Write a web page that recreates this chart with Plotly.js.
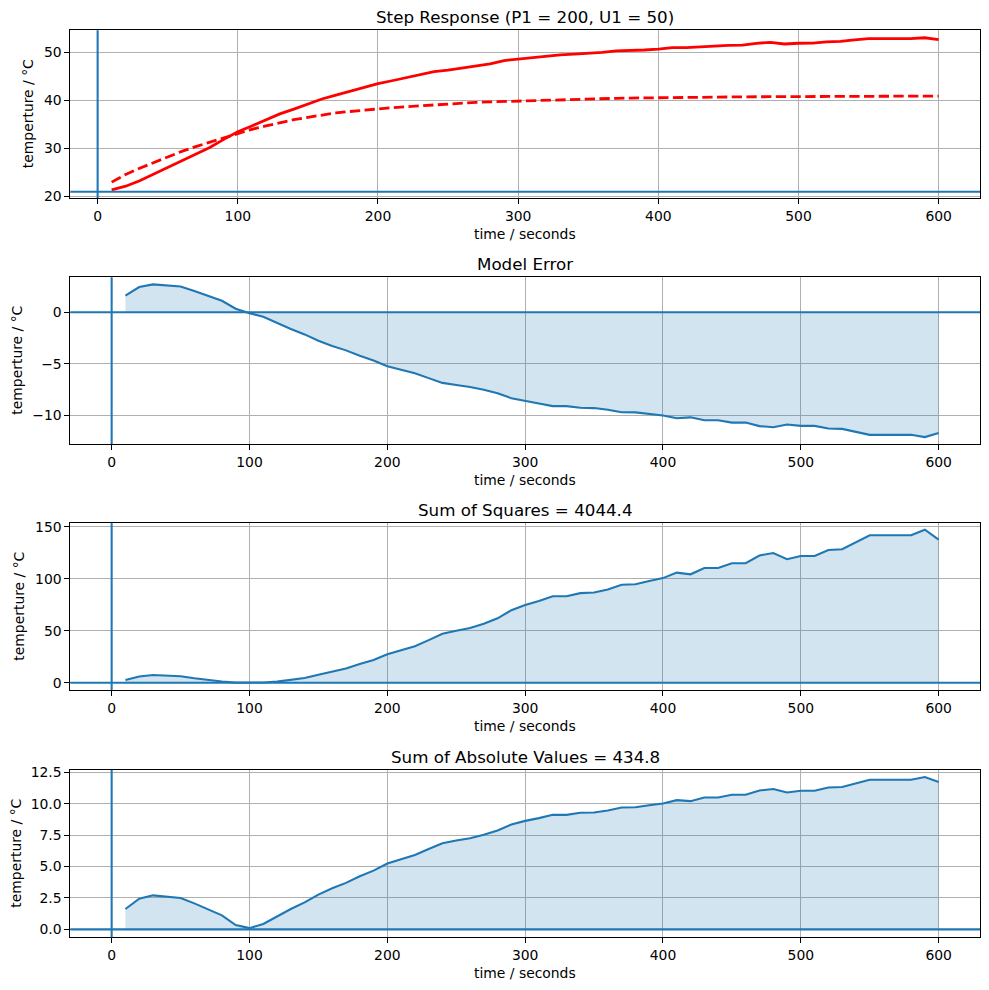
<!DOCTYPE html>
<html>
<head>
<meta charset="utf-8">
<script src="https://cdn.plot.ly/plotly-3.0.1.min.js"></script>
<style>html,body{margin:0;padding:0;background:#fff;}#chart{width:989px;height:990px;}</style>
</head>
<body>
<div id="chart"></div>
<script>
// ---- data ----
const time = [10,20,30,40,50,60,70,80,90,100,110,120,130,140,150,160,170,180,190,200,
  210,220,230,240,250,260,270,280,290,300,310,320,330,340,350,360,370,380,390,400,
  410,420,430,440,450,460,470,480,490,500,510,520,530,540,550,560,570,580,590,600];

const measured = [21.4,22.15,23.3,24.7,26.0,27.4,28.75,30.2,31.9,33.5,34.7,36.0,37.2,38.2,39.2,40.3,41.1,41.9,42.6,43.5,
  44.1,44.7,45.3,46.0,46.3,46.7,47.1,47.6,48.3,48.6,49.0,49.3,49.5,49.65,49.8,50.0,50.3,50.35,50.5,50.7,
  51.0,51.0,51.2,51.25,51.45,51.5,51.9,52.1,51.75,51.9,51.95,52.2,52.3,52.6,52.85,52.85,52.85,52.85,53.05,52.65];

const model = [23.0,24.6,25.9,27.1,28.3,29.4,30.4,31.3,32.2,33.2,34.0,34.7,35.4,36.0,36.5,37.0,37.4,37.7,38.0,38.3,
  38.5,38.7,38.9,39.1,39.3,39.4,39.6,39.7,39.8,39.9,40.0,40.1,40.2,40.3,40.35,40.4,40.45,40.5,40.55,40.6,
  40.62,40.65,40.68,40.7,40.72,40.75,40.77,40.79,40.8,40.82,40.83,40.85,40.86,40.87,40.88,40.89,40.9,40.9,40.91,40.92];

const modelError = [1.62,2.45,2.71,2.6,2.5,2.07,1.6,1.12,0.35,-0.1,-0.43,-1.04,-1.62,-2.15,-2.77,-3.27,-3.7,-4.23,-4.68,-5.24,
  -5.6,-5.93,-6.4,-6.86,-7.07,-7.26,-7.53,-7.87,-8.35,-8.64,-8.86,-9.12,-9.12,-9.28,-9.31,-9.47,-9.71,-9.73,-9.89,-10.03,
  -10.29,-10.21,-10.5,-10.5,-10.72,-10.72,-11.06,-11.17,-10.9,-11.04,-11.04,-11.3,-11.33,-11.62,-11.91,-11.91,-11.91,-11.91,-12.13,-11.73];

const squaredError = modelError.map(e => e * e);
const absError = modelError.map(e => Math.abs(e));

const ambient = 21;
const stepTime = 0;
const zeroLevel = 0;

const titles = ["Step Response (P1 = 200, U1 = 50)", "Model Error", "Sum of Squares = 4044.4", "Sum of Absolute Values = 434.8"];
const xLabel = "time / seconds";
const yLabel = "temperture / °C";
const xTicks = [0,100,200,300,400,500,600];
const yTicks1 = [20,30,40,50];
const yTicks2 = [-10,-5,0];
const yTicks3 = [0,50,100,150];
const yTicks4 = [0,2.5,5,7.5,10,12.5];

// ---- styling / layout ----
const W = 989, H = 990;
const BLUE = '#1f77b4';
const FILL = 'rgba(31,119,180,0.2)';
const FONT = 'DejaVu Sans, sans-serif';
const left = 70.3, right = 980;
// [top, bottom] pixel edges of each axes box
const boxes = [[30.3,198],[277.3,444],[523.3,690],[770,937.3]];
const yLabelX = [28,17,19,16];
const yRanges = [[19.7,54.6],[-12.8,3.4],[-7.0,153.3],[-0.63,12.69]];
const xRanges = [[-19.5,629.5],[-30,630],[-30,630],[-30,630]];
const yTickSets = [yTicks1,yTicks2,yTicks3,yTicks4];

const traces = [
  {x: time, y: measured, xaxis:'x', yaxis:'y', mode:'lines', line:{color:'red', width:2.8}, hoverinfo:'skip'},
  {x: time, y: model, xaxis:'x', yaxis:'y', mode:'lines', line:{color:'red', width:2.8, dash:'10.3px,4.4px'}, hoverinfo:'skip'},
  {x: time, y: modelError, xaxis:'x2', yaxis:'y2', mode:'lines', fill:'tozeroy', fillcolor:FILL, line:{color:BLUE, width:2.08}, hoverinfo:'skip'},
  {x: time, y: squaredError, xaxis:'x3', yaxis:'y3', mode:'lines', fill:'tozeroy', fillcolor:FILL, line:{color:BLUE, width:2.08}, hoverinfo:'skip'},
  {x: time, y: absError, xaxis:'x4', yaxis:'y4', mode:'lines', fill:'tozeroy', fillcolor:FILL, line:{color:BLUE, width:2.08}, hoverinfo:'skip'}
];

const layout = {
  width: W, height: H,
  margin: {l:0, r:0, t:0, b:0},
  paper_bgcolor: '#fff', plot_bgcolor: '#fff',
  showlegend: false,
  font: {family: FONT, size: 13.9, color: '#000'},
  shapes: [], annotations: []
};

const xd = [left/W, right/W];
for (let i = 0; i < 4; i++) {
  const s = i === 0 ? '' : String(i+1);
  const [top, bot] = boxes[i];
  const axCommon = {
    showline: true, mirror: true, linecolor: '#000', linewidth: 1,
    ticks: 'outside', ticklen: 4.9, tickwidth: 1, tickcolor: '#000',
    showgrid: true, gridcolor: '#b0b0b0', gridwidth: 1,
    zeroline: false, tickfont: {family: FONT, size: 13.9, color:'#000'}
  };
  layout['xaxis' + s] = Object.assign({}, axCommon, {
    domain: xd, anchor: 'y' + s, range: xRanges[i],
    tickmode: 'array', tickvals: xTicks, ticktext: xTicks.map(String)
  });
  layout['yaxis' + s] = Object.assign({}, axCommon, {
    domain: [1 - bot/H, 1 - top/H], anchor: 'x' + s, range: yRanges[i],
    tickmode: 'array', tickvals: yTickSets[i],
    ticktext: yTickSets[i].map(v => i === 3 ? v.toFixed(1) : (v < 0 ? '\u2212' + Math.abs(v) : String(v)))
  });
  // vertical line at the step time
  layout.shapes.push({type:'line', xref:'x'+s, yref:'y'+s+' domain', x0:stepTime, x1:stepTime, y0:0, y1:1,
    line:{color:BLUE, width:2.08}, layer:'above'});
  // horizontal reference line
  layout.shapes.push({type:'line', xref:'x'+s+' domain', yref:'y'+s, x0:0, x1:1,
    y0: i === 0 ? ambient : zeroLevel, y1: i === 0 ? ambient : zeroLevel,
    line:{color:BLUE, width:2.08}, layer:'above'});
  // subplot title
  layout.annotations.push({text: titles[i], xref:'paper', yref:'paper', x:(left+right)/2/W, y:1-(top-13)/H,
    xanchor:'center', yanchor:'middle', showarrow:false, font:{family:FONT, size:16.7, color:'#000'}});
  // x label
  layout.annotations.push({text: xLabel, xref:'paper', yref:'paper', x:(left+right)/2/W, y:1-(bot+36)/H,
    xanchor:'center', yanchor:'middle', showarrow:false, font:{family:FONT, size:13.9, color:'#000'}});
  // y label
  layout.annotations.push({text: yLabel, xref:'paper', yref:'paper', x:yLabelX[i]/W, y:1-((top+bot)/2)/H,
    xanchor:'center', yanchor:'middle', textangle:-90, showarrow:false, font:{family:FONT, size:13.9, color:'#000'}});
}

Plotly.newPlot('chart', traces, layout, {staticPlot: true, displayModeBar: false});
</script>
</body>
</html>
